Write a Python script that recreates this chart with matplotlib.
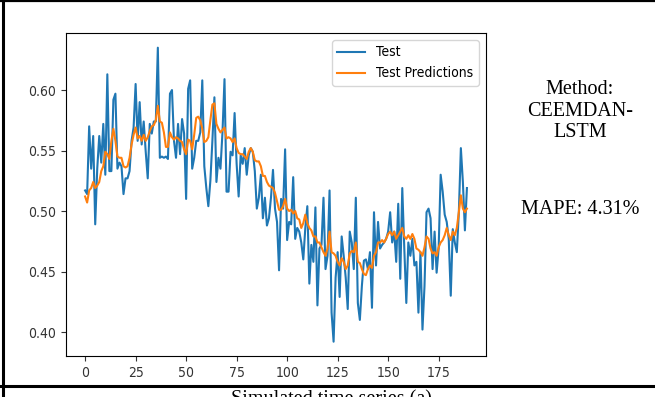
import matplotlib
matplotlib.use("Agg")
import matplotlib.pyplot as plt
from matplotlib.lines import Line2D
import numpy as np

# --------------------------------------------------
# SERIES
# --------------------------------------------------
test_values = [
    0.517, 0.514, 0.570, 0.535, 0.562, 0.489, 0.535, 0.562, 0.540, 0.572,
    0.530, 0.613, 0.533, 0.533, 0.592, 0.597, 0.535, 0.540, 0.537, 0.514,
    0.527, 0.527, 0.533, 0.558, 0.569, 0.605, 0.558, 0.590, 0.555, 0.574,
    0.549, 0.527, 0.572, 0.564, 0.574, 0.574, 0.635, 0.544, 0.545, 0.544,
    0.545, 0.543, 0.597, 0.600, 0.558, 0.544, 0.572, 0.547, 0.576, 0.564,
    0.510, 0.601, 0.608, 0.535, 0.544, 0.558, 0.558, 0.565, 0.608, 0.537,
    0.519, 0.504, 0.525, 0.558, 0.594, 0.524, 0.544, 0.535, 0.565, 0.609,
    0.516, 0.516, 0.549, 0.546, 0.581, 0.539, 0.512, 0.546, 0.539, 0.552,
    0.530, 0.546, 0.552, 0.549, 0.533, 0.502, 0.511, 0.530, 0.494, 0.511,
    0.488, 0.494, 0.511, 0.534, 0.502, 0.491, 0.451, 0.510, 0.502, 0.551,
    0.476, 0.491, 0.489, 0.528, 0.477, 0.486, 0.483, 0.474, 0.460, 0.486,
    0.504, 0.440, 0.472, 0.458, 0.503, 0.422, 0.469, 0.472, 0.511, 0.452,
    0.463, 0.517, 0.416, 0.392, 0.445, 0.466, 0.429, 0.479, 0.463, 0.445,
    0.419, 0.483, 0.474, 0.452, 0.511, 0.424, 0.410, 0.438, 0.459, 0.460,
    0.452, 0.466, 0.420, 0.499, 0.455, 0.491, 0.469, 0.472, 0.474, 0.477,
    0.483, 0.499, 0.474, 0.483, 0.458, 0.506, 0.444, 0.519, 0.469, 0.424,
    0.474, 0.463, 0.477, 0.455, 0.458, 0.416, 0.466, 0.402, 0.438, 0.499,
    0.502, 0.494, 0.452, 0.483, 0.449, 0.469, 0.530, 0.516, 0.497, 0.491,
    0.477, 0.430, 0.485, 0.474, 0.466, 0.499, 0.552, 0.524, 0.484, 0.519,
]

pred_values = [
    0.512, 0.507, 0.517, 0.519, 0.524, 0.519, 0.521, 0.524, 0.533, 0.537,
    0.549, 0.547, 0.543, 0.558, 0.568, 0.558, 0.545, 0.544, 0.544, 0.537,
    0.536, 0.537, 0.544, 0.555, 0.563, 0.569, 0.560, 0.562, 0.558, 0.563,
    0.558, 0.561, 0.566, 0.570, 0.571, 0.575, 0.587, 0.574, 0.573, 0.565,
    0.553, 0.553, 0.565, 0.561, 0.559, 0.561, 0.560, 0.558, 0.557, 0.551,
    0.547, 0.559, 0.558, 0.551, 0.563, 0.577, 0.578, 0.575, 0.568, 0.557,
    0.558, 0.561, 0.575, 0.588, 0.589, 0.572, 0.568, 0.565, 0.567, 0.569,
    0.560, 0.561, 0.560, 0.557, 0.560, 0.552, 0.548, 0.547, 0.547, 0.545,
    0.543, 0.549, 0.552, 0.549, 0.542, 0.541, 0.541, 0.537, 0.529, 0.529,
    0.524, 0.521, 0.520, 0.519, 0.515, 0.508, 0.501, 0.501, 0.504, 0.510,
    0.502, 0.500, 0.501, 0.498, 0.500, 0.494, 0.493, 0.486, 0.490, 0.497,
    0.490, 0.486, 0.484, 0.479, 0.479, 0.474, 0.474, 0.470, 0.466, 0.463,
    0.469, 0.483, 0.466, 0.465, 0.463, 0.458, 0.455, 0.461, 0.458, 0.452,
    0.455, 0.465, 0.467, 0.466, 0.474, 0.458, 0.457, 0.452, 0.448, 0.447,
    0.452, 0.455, 0.453, 0.463, 0.466, 0.474, 0.474, 0.476, 0.474, 0.477,
    0.481, 0.483, 0.480, 0.483, 0.477, 0.480, 0.483, 0.486, 0.479, 0.477,
    0.480, 0.477, 0.481, 0.477, 0.469, 0.468, 0.466, 0.463, 0.470, 0.479,
    0.477, 0.469, 0.465, 0.466, 0.463, 0.470, 0.474, 0.476, 0.480, 0.486,
    0.480, 0.476, 0.483, 0.480, 0.486, 0.499, 0.513, 0.502, 0.499, 0.502,
]

series_labels = ["Test", "Test Predictions"]
method_text = "Method:\nCEEMDAN-\nLSTM"
mape_text = "MAPE: 4.31%"
caption_text = "Simulated time series (a)"

plt.rcParams["font.stretch"] = "condensed"

fig = plt.figure(figsize=(6.55, 3.97), dpi=100)

# --------------------------------------------------
# PREDICTION PLOT
# --------------------------------------------------
ax = fig.add_axes([0.1008, 0.1023, 0.6412, 0.8146])
steps = np.arange(len(test_values))
ax.plot(steps, test_values, color="#1f77b4", lw=1.5, label=series_labels[0])
ax.plot(steps, pred_values, color="#ff7f0e", lw=1.5, label=series_labels[1])
ax.tick_params(labelsize=10, colors="#333333")
ax.legend(loc="upper right", fontsize=10)

# --------------------------------------------------
# TABLE TEXT AND RULES
# --------------------------------------------------
serif = "Liberation Serif"
fig.text(580 / 655, 1 - 111 / 397, method_text, ha="center", va="center",
         family=serif, fontsize=14.5, linespacing=1.15)
fig.text(580 / 655, 1 - 210 / 397, mape_text, ha="center", va="center",
         family=serif, fontsize=14.5)
fig.text(331 / 655, 1 - 390 / 397, caption_text, ha="center", va="top",
         family=serif, fontsize=14.5)

fig.add_artist(Line2D([2.5 / 655, 2.5 / 655], [0, 1], color="black", lw=2.2))
fig.add_artist(Line2D([0, 1], [1 - 1 / 397, 1 - 1 / 397], color="black", lw=1.6))
fig.add_artist(Line2D([0, 1], [1 - 386 / 397, 1 - 386 / 397], color="black", lw=2.2))

fig.savefig("out.png", dpi=100)
